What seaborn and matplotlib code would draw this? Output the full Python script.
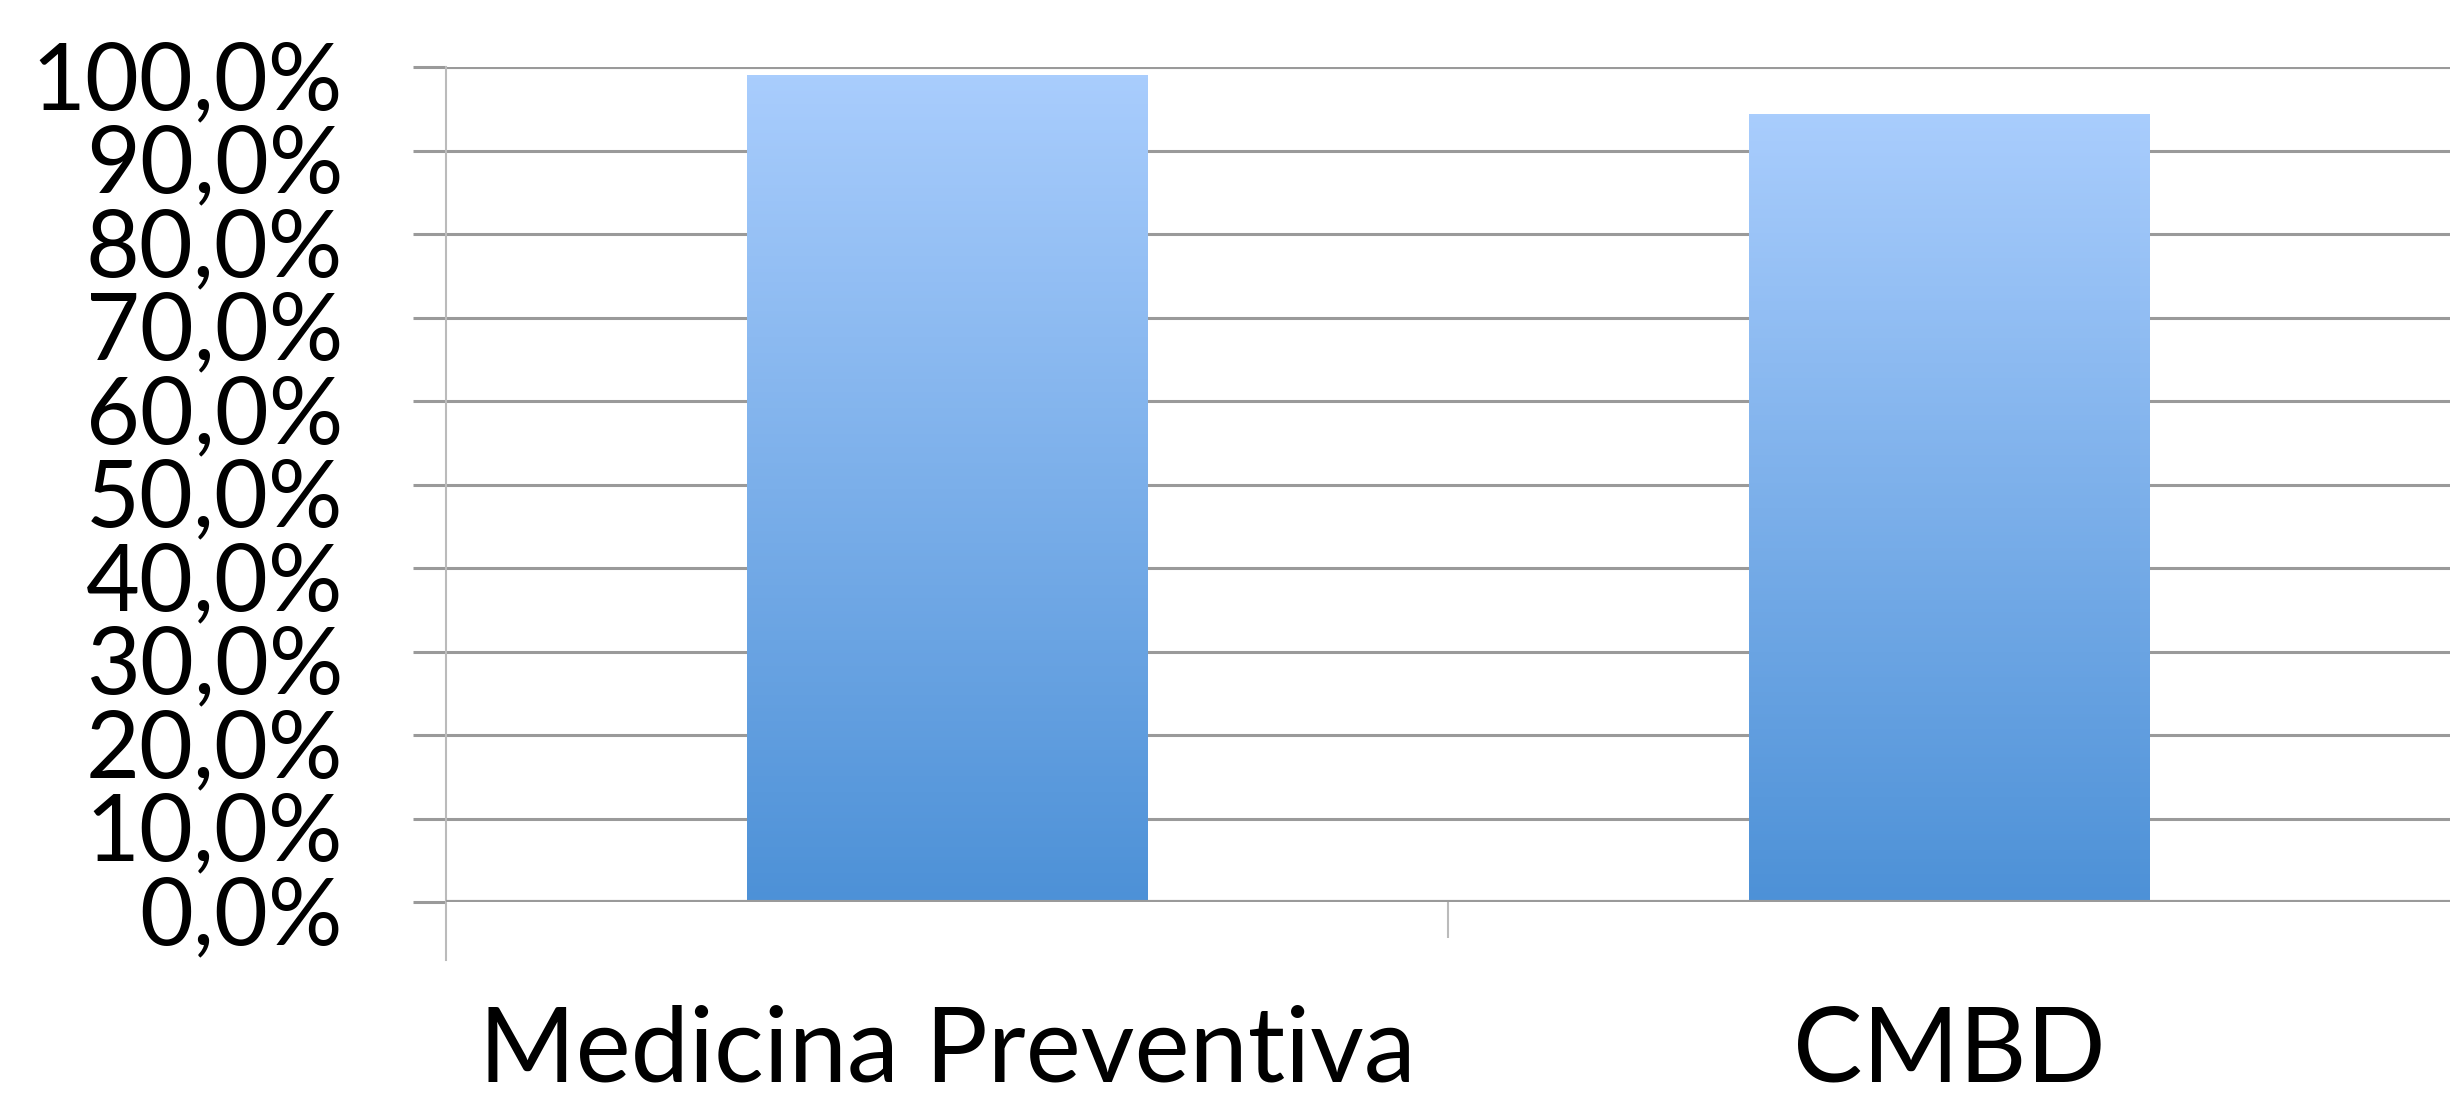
import numpy as np
import pandas as pd
import matplotlib
matplotlib.use("Agg")
import matplotlib.pyplot as plt
import matplotlib.transforms as mtransforms
import seaborn as sns
from matplotlib.colors import LinearSegmentedColormap
from matplotlib.ticker import FuncFormatter

categories = ["Medicina Preventiva", "CMBD"]
values = [0.990, 0.944]
yticks = np.arange(0, 1.01, 0.1)

df = pd.DataFrame({"cat": categories, "val": values})

sns.set_theme(style="white")
plt.rcParams["font.family"] = ["Lato", "DejaVu Sans"]
plt.rcParams["text.color"] = "black"
plt.rcParams["xtick.labelcolor"] = "black"
plt.rcParams["ytick.labelcolor"] = "black"

fig = plt.figure(figsize=(24.5, 10.99), dpi=100)
ax = fig.add_axes([446 / 2450, 1 - 902 / 1099, 1 - 446 / 2450, 835 / 1099])

sns.barplot(data=df, x="cat", y="val", color="#6fa6e6", width=0.4, ax=ax,
            saturation=1, zorder=3)

# vertical gradient inside each bar
cmap = LinearSegmentedColormap.from_list("g", ["#4d91d7", "#a9cdfd"])
grad = np.linspace(0, 1, 256).reshape(-1, 1)
for p in ax.patches:
    x0, y0 = p.get_x(), p.get_y()
    w, h = p.get_width(), p.get_height()
    im = ax.imshow(grad, cmap=cmap, origin="lower", aspect="auto",
                   extent=[x0, x0 + w, y0, y0 + h], zorder=4)
    im.set_clip_path(p)
    p.set_edgecolor("none")

ax.set_xlim(-0.5, 1.5)
ax.set_ylim(0, 1)
ax.set_yticks(yticks)
ax.yaxis.set_major_formatter(FuncFormatter(lambda v, _: f"{v * 100:.1f}%".replace(".", ",")))
ax.set_xlabel("")
ax.set_ylabel("")

ax.grid(axis="y", color="#9a9a9a", linewidth=2.2, zorder=0)
ax.grid(axis="x", visible=False)
for s in ["top", "right", "bottom"]:
    ax.spines[s].set_visible(False)
ax.spines["left"].set_color("#bbbbbb")
ax.spines["left"].set_linewidth(1.5)
ax.spines["left"].set_bounds(-0.07, 1)
ax.spines["left"].set_position(("data", -0.5))

# category separators below the baseline
ax.set_xticks([0.5], minor=True)
ax.tick_params(axis="x", which="minor", bottom=True, length=26, width=1.5,
               color="#bbbbbb", direction="out")
ax.tick_params(axis="x", which="major", bottom=False, length=0, pad=74,
               labelsize=75, labelcolor="black")
ax.tick_params(axis="y", left=True, length=24, width=2.2, color="#9a9a9a",
               pad=50, labelsize=67, labelcolor="black")
ax.axhline(0, color="#9a9a9a", linewidth=3, zorder=5)
ax.axhline(1, color="#9a9a9a", linewidth=2.2, zorder=2)

shift = mtransforms.ScaledTranslation(0, -6 / 72, fig.dpi_scale_trans)
for lab in ax.get_yticklabels():
    lab.set_transform(lab.get_transform() + shift)

fig.savefig("out.png", dpi=100)
